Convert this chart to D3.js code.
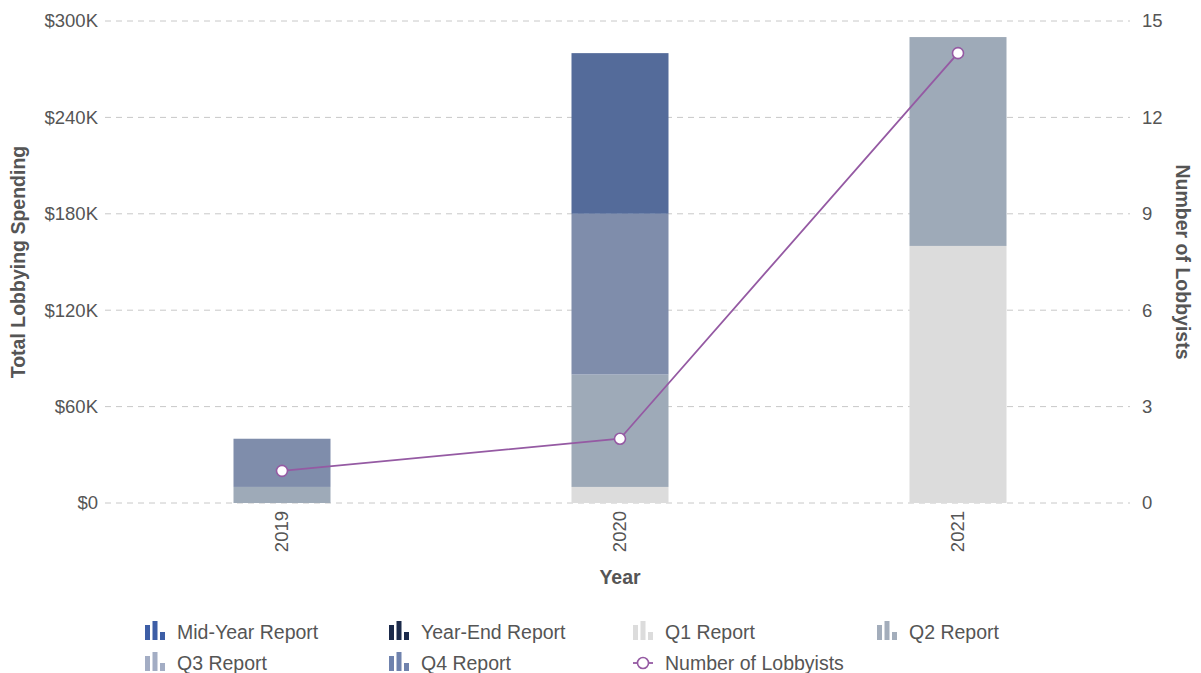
<!DOCTYPE html>
<html>
<head>
<meta charset="utf-8">
<script src="https://cdn.jsdelivr.net/npm/d3@7"></script>
<style>
  body { margin: 0; background: #fff; }
  svg { display: block; font-family: "Liberation Sans", Arial, sans-serif; }
</style>
</head>
<body>
<svg id="chart" width="1201" height="673"></svg>
<script>
// ---- data ----
const years = ["2019", "2020", "2021"];
const seriesNames = ["Q1 Report", "Q2 Report", "Q3 Report", "Q4 Report", "Mid-Year Report", "Year-End Report"];
const q1Values = [0, 10000, 160000];
const q2Values = [10000, 70000, 130000];
const q3Values = [30000, 100000, 0];
const q4Values = [0, 100000, 0];
const midYearValues = [0, 0, 0];
const yearEndValues = [0, 0, 0];
const lobbyists = [1, 2, 14];
const leftTicks = [0, 60000, 120000, 180000, 240000, 300000];
const leftTickLabels = ["$0", "$60K", "$120K", "$180K", "$240K", "$300K"];
const rightTicks = [0, 3, 6, 9, 12, 15];
const legendOrder = ["Mid-Year Report", "Year-End Report", "Q1 Report", "Q2 Report", "Q3 Report", "Q4 Report", "Number of Lobbyists"];

const colors = {
  "Q1 Report": "#dcdcdc",
  "Q2 Report": "#9eaab8",
  "Q3 Report": "#7f8dab",
  "Q4 Report": "#546b9a",
  "Mid-Year Report": "#3d5ea6",
  "Year-End Report": "#1b2a4a"
};
const legendColors = {
  "Q1 Report": "#dcdcdc",
  "Q2 Report": "#a3adbb",
  "Q3 Report": "#a3adc4",
  "Q4 Report": "#6f82ad",
  "Mid-Year Report": "#3d5ea6",
  "Year-End Report": "#1b2a4a"
};
const lineColor = "#955aa3";

const valuesBySeries = {
  "Q1 Report": q1Values, "Q2 Report": q2Values, "Q3 Report": q3Values,
  "Q4 Report": q4Values, "Mid-Year Report": midYearValues, "Year-End Report": yearEndValues
};
const table = years.map((y, i) => {
  const row = { year: y };
  seriesNames.forEach(s => row[s] = valuesBySeries[s][i]);
  return row;
});

// ---- layout ----
const svg = d3.select("#chart");
const plotTop = 21, plotBottom = 503, plotLeft = 105, plotRight = 1130;
const tickFont = 18.5, titleFont = 19.5, legendFont = 19.5;
const textColor = "#555";

const x = d3.scaleBand().domain(years).range([113, 1127]).paddingInner(0.713).paddingOuter(0.3565);
const yL = d3.scaleLinear().domain([0, 300000]).range([plotBottom, plotTop]);
const yR = d3.scaleLinear().domain([0, 15]).range([plotBottom, plotTop]);

// gridlines
svg.append("g").selectAll("line").data(leftTicks).join("line")
  .attr("x1", plotLeft).attr("x2", plotRight)
  .attr("y1", d => yL(d)).attr("y2", d => yL(d))
  .attr("stroke", "#c8c8c8").attr("stroke-width", 1).attr("stroke-dasharray", "6,5");

// left axis
const gL = svg.append("g").attr("transform", `translate(${plotLeft - 7},0)`)
  .call(d3.axisLeft(yL).tickValues(leftTicks).tickFormat((d, i) => leftTickLabels[i]).tickSize(0).tickPadding(0));
gL.select(".domain").remove();
gL.selectAll("text").attr("font-size", tickFont).attr("fill", textColor).attr("font-family", "Liberation Sans, Arial, sans-serif");

// right axis
const gR = svg.append("g").attr("transform", `translate(${plotRight + 12},0)`)
  .call(d3.axisRight(yR).tickValues(rightTicks).tickSize(0).tickPadding(0));
gR.select(".domain").remove();
gR.selectAll("text").attr("font-size", tickFont).attr("fill", textColor).attr("font-family", "Liberation Sans, Arial, sans-serif");

// stacked bars
const stack = d3.stack().keys(seriesNames)(table);
svg.append("g").selectAll("g").data(stack).join("g")
  .attr("fill", d => colors[d.key])
  .selectAll("rect").data(d => d.filter(p => p[1] > p[0])).join("rect")
  .attr("x", d => x(d.data.year))
  .attr("width", x.bandwidth())
  .attr("y", d => yL(d[1]))
  .attr("height", d => yL(d[0]) - yL(d[1]));

// x axis labels
const gX = svg.append("g").attr("transform", `translate(0,${plotBottom + 8})`)
  .call(d3.axisBottom(x).tickSize(0).tickPadding(0));
gX.select(".domain").remove();
gX.selectAll("text")
  .attr("font-size", tickFont).attr("fill", textColor).attr("font-family", "Liberation Sans, Arial, sans-serif")
  .attr("transform", "rotate(-90)")
  .attr("text-anchor", "end").attr("dx", 0).attr("dy", "0.35em").attr("y", 0).attr("x", 0);

// line
const cx = (d, i) => x(years[i]) + x.bandwidth() / 2;
const line = d3.line().x((d, i) => cx(d, i)).y(d => yR(d));
svg.append("path").datum(lobbyists).attr("d", line)
  .attr("fill", "none").attr("stroke", lineColor).attr("stroke-width", 1.8);
svg.append("g").selectAll("circle").data(lobbyists).join("circle")
  .attr("cx", (d, i) => cx(d, i)).attr("cy", d => yR(d)).attr("r", 5.5)
  .attr("fill", "#fff").attr("stroke", lineColor).attr("stroke-width", 1.6);

// axis titles
svg.append("text").attr("transform", `translate(25,${(plotTop + plotBottom) / 2}) rotate(-90)`)
  .attr("text-anchor", "middle").attr("font-size", titleFont).attr("font-weight", "bold").attr("fill", textColor)
  .text("Total Lobbying Spending");
svg.append("text").attr("transform", `translate(1176,${(plotTop + plotBottom) / 2}) rotate(90)`)
  .attr("text-anchor", "middle").attr("font-size", titleFont).attr("font-weight", "bold").attr("fill", textColor)
  .text("Number of Lobbyists");
svg.append("text").attr("x", 620).attr("y", 584)
  .attr("text-anchor", "middle").attr("font-size", titleFont).attr("font-weight", "bold").attr("fill", textColor)
  .text("Year");

// legend
const colX = [145, 389, 633, 877];
const rowY = [632, 663];
const lg = svg.append("g");
legendOrder.forEach((name, i) => {
  const gx = colX[i % 4], gy = rowY[Math.floor(i / 4)];
  const g = lg.append("g").attr("transform", `translate(${gx},${gy})`);
  if (name === "Number of Lobbyists") {
    g.append("line").attr("x1", 0).attr("x2", 20).attr("y1", 0).attr("y2", 0)
      .attr("stroke", lineColor).attr("stroke-width", 1.8);
    g.append("circle").attr("cx", 10).attr("cy", 0).attr("r", 5.5)
      .attr("fill", "#fff").attr("stroke", lineColor).attr("stroke-width", 1.6);
  } else {
    const c = legendColors[name];
    const bars = [[0, 15], [7.5, 19], [15, 8]];
    bars.forEach(([bx, h]) => {
      g.append("rect").attr("x", bx).attr("y", 8 - h).attr("width", 5).attr("height", h).attr("fill", c);
    });
  }
  g.append("text").attr("x", 32).attr("y", 0).attr("dy", "0.35em")
    .attr("font-size", legendFont).attr("fill", textColor).text(name);
});
</script>
</body>
</html>
